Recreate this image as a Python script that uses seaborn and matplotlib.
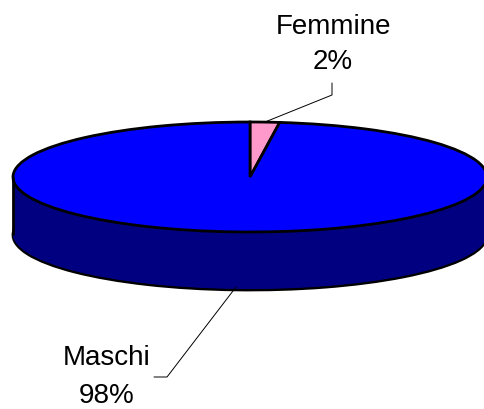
import matplotlib

matplotlib.use("Agg")
import matplotlib.pyplot as plt
import numpy as np
import seaborn as sns

# Data
labels = ["Femmine", "Maschi"]
shares = [2, 98]
top_colors = ["#FF99CC", "#0000FF"]
side_color = "#000080"

WIDTH, HEIGHT = 484, 410
CX, CY = 250, 178
RX, RY = 237, 55
DEPTH = 58 / RY


def to_data(px, py):
    # pixel position in the image -> squashed pie coordinates
    return (px - CX) / RX, (CY - py) / RY


sns.set_theme(style="white")
plt.rcParams["font.family"] = ["Liberation Sans", "DejaVu Sans"]

fig = plt.figure(figsize=(WIDTH / 100, HEIGHT / 100), dpi=100)
ax = fig.add_axes([0, 0, 1, 1])

# side of the disc: the same pie repeated downwards
for i, offset in enumerate(np.linspace(DEPTH, 0, 60)):
    edge = {"edgecolor": "black", "linewidth": 2.0} if i == 0 else {"linewidth": 0}
    ax.pie(shares, colors=[side_color] * 2, startangle=90, counterclock=False,
           center=(0, -offset), radius=1, wedgeprops=edge)
ax.vlines([-1, 1], -DEPTH, 0, color="black", linewidth=2.0)

# top of the disc
ax.pie(shares, colors=top_colors, startangle=90, counterclock=False,
       center=(0, 0), radius=1, wedgeprops={"edgecolor": "black", "linewidth": 2.0})

# the pie call forces equal aspect, the disc needs to be squashed
ax.set_aspect("auto")
ax.set_xlim(to_data(0, 0)[0], to_data(WIDTH, 0)[0])
ax.set_ylim(to_data(0, HEIGHT)[1], to_data(0, 0)[1])
ax.axis("off")

# leader lines
for path in [[(332, 84), (332, 96), (265, 123)], [(236, 288), (167, 378), (154, 378)]]:
    points = [to_data(*p) for p in path]
    ax.plot([p[0] for p in points], [p[1] for p in points], color="black",
            linewidth=0.7, clip_on=False)

# labels
label_spots = {"Femmine": ((333, 27), (333, 62)), "Maschi": ((107, 358), (107, 396))}
for label, share in zip(labels, shares):
    name_spot, value_spot = label_spots[label]
    ax.text(*to_data(*name_spot), label, ha="center", va="center", fontsize=20, color="black")
    ax.text(*to_data(*value_spot), f"{share}%", ha="center", va="center", fontsize=20, color="black")

fig.savefig("out.png", dpi=100)
